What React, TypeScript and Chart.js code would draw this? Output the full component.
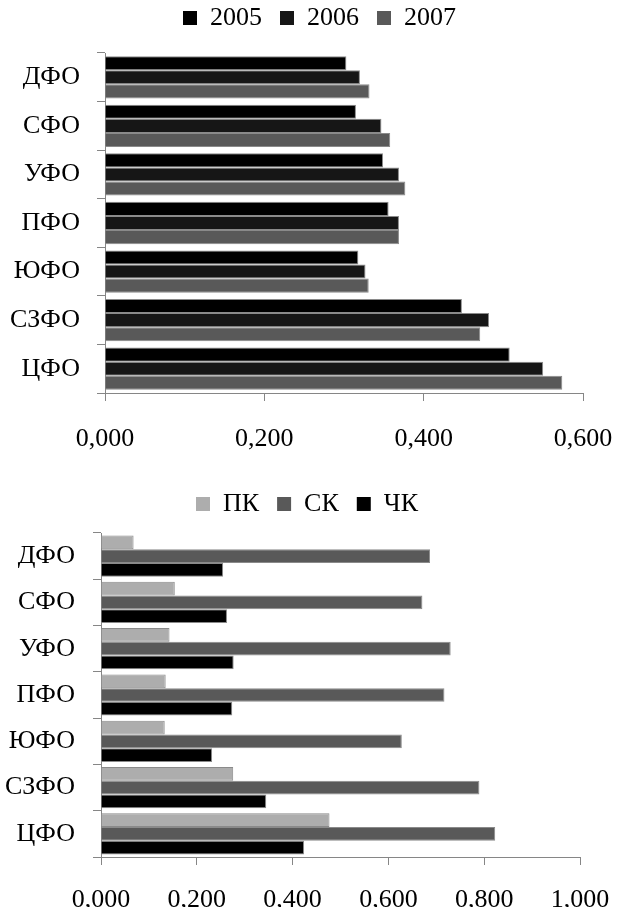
import React, { useEffect, useRef } from 'react';
import { Chart, registerables } from 'chart.js';

Chart.register(...registerables);

// ---- Data ----
const regions = ['ДФО', 'СФО', 'УФО', 'ПФО', 'ЮФО', 'СЗФО', 'ЦФО'];

const yearLabels = ['2005', '2006', '2007'];
const values2005 = [0.303, 0.315, 0.349, 0.356, 0.318, 0.448, 0.508];
const values2006 = [0.320, 0.347, 0.369, 0.369, 0.327, 0.482, 0.550];
const values2007 = [0.332, 0.358, 0.377, 0.369, 0.331, 0.471, 0.574];
const topTicks = [0, 0.2, 0.4, 0.6];

const capitalLabels = ['ПК', 'СК', 'ЧК'];
const valuesPK = [0.068, 0.154, 0.143, 0.135, 0.133, 0.276, 0.477];
const valuesSK = [0.687, 0.671, 0.730, 0.717, 0.628, 0.790, 0.823];
const valuesCHK = [0.255, 0.263, 0.277, 0.274, 0.232, 0.345, 0.424];
const bottomTicks = [0, 0.2, 0.4, 0.6, 0.8, 1.0];

const FONT = "'Liberation Serif', 'Times New Roman', serif";
const AXIS_COLOR = '#868686';

const shiftLegend = {
  id: 'shiftLegend',
  afterLayout(chart: any, _args: any, opts: any) {
    const l = chart.legend;
    if (!l) return;
    const dx = opts.dx || 0;
    const dy = opts.dy || 0;
    l.left += dx;
    l.right += dx;
    l.top += dy;
    l.bottom += dy;
  },
};

const fmt = (v: number) => v.toFixed(3).replace('.', ',');

function makeConfig(p: {
  labels: string[];
  series: { label: string; data: number[]; color: string }[];
  ticks: number[];
  yWidth: number;
  xHeight: number;
  padding: { top: number; right: number; bottom: number; left: number };
  legendShift: { dx: number; dy: number };
  xTickPadding: number;
  yTickPadding: number;
  categoryPercentage: number;
}): any {
  const min = p.ticks[0];
  const max = p.ticks[p.ticks.length - 1];
  return {
    type: 'bar',
    data: {
      labels: p.labels,
      datasets: p.series.map((s) => ({
        label: s.label,
        data: s.data,
        backgroundColor: s.color,
        borderColor: '#8a8a8a',
        borderWidth: 1,
        borderSkipped: 'start',
        barPercentage: 1,
        categoryPercentage: p.categoryPercentage,
      })),
    },
    plugins: [shiftLegend],
    options: {
      indexAxis: 'y',
      responsive: false,
      devicePixelRatio: 1,
      animation: false,
      layout: { padding: p.padding },
      plugins: {
        shiftLegend: p.legendShift,
        tooltip: { enabled: false },
        legend: {
          display: true,
          position: 'top',
          align: 'center',
          labels: {
            boxWidth: 14,
            boxHeight: 14,
            padding: 18,
            color: '#000',
            font: { family: FONT, size: 26 },
            generateLabels: (chart: any) =>
              (Chart.defaults.plugins.legend.labels as any)
                .generateLabels(chart)
                .map((it: any) => ({ ...it, strokeStyle: it.fillStyle, lineWidth: 0 })),
          },
        },
      },
      scales: {
        x: {
          type: 'linear',
          min,
          max,
          afterBuildTicks: (scale: any) => {
            scale.ticks = p.ticks.map((v) => ({ value: v }));
          },
          afterFit: (scale: any) => {
            scale.paddingLeft = 0;
            scale.paddingRight = 0;
            scale.height = p.xHeight;
          },
          ticks: {
            color: '#000',
            font: { family: FONT, size: 26 },
            padding: p.xTickPadding,
            maxRotation: 0,
            callback: (v: any) => fmt(Number(v)),
          },
          grid: {
            display: true,
            drawOnChartArea: false,
            drawTicks: true,
            tickLength: 8,
            color: AXIS_COLOR,
            lineWidth: 1,
          },
          border: { display: true, color: AXIS_COLOR, width: 1 },
        },
        y: {
          type: 'category',
          afterFit: (scale: any) => {
            scale.width = p.yWidth;
            scale.paddingTop = 0;
            scale.paddingBottom = 0;
          },
          ticks: {
            color: '#000',
            font: { family: FONT, size: 26 },
            padding: p.yTickPadding,
          },
          grid: {
            display: true,
            offset: true,
            drawOnChartArea: false,
            drawTicks: true,
            tickLength: 8,
            color: AXIS_COLOR,
            lineWidth: 1,
          },
          border: { display: true, color: AXIS_COLOR, width: 1 },
        },
      },
    },
  };
}

function BarChart({ config, width, height, top }: { config: any; width: number; height: number; top: number }) {
  const ref = useRef<HTMLCanvasElement | null>(null);
  useEffect(() => {
    if (!ref.current) return;
    const chart = new Chart(ref.current, config);
    return () => chart.destroy();
  }, [config]);
  return (
    <canvas
      ref={ref}
      width={width}
      height={height}
      style={{ position: 'absolute', left: 0, top, width, height, display: 'block' }}
    />
  );
}

const topConfig = makeConfig({
  labels: regions,
  series: [
    { label: yearLabels[0], data: values2005, color: '#000000' },
    { label: yearLabels[1], data: values2006, color: '#161616' },
    { label: yearLabels[2], data: values2007, color: '#595959' },
  ],
  ticks: topTicks,
  yWidth: 105,
  xHeight: 60,
  padding: { top: 1, right: 36, bottom: 5, left: 0 },
  legendShift: { dx: 28, dy: -12 },
  xTickPadding: 23,
  yTickPadding: 17,
  categoryPercentage: 0.87,
});

const bottomConfig = makeConfig({
  labels: regions,
  series: [
    { label: capitalLabels[0], data: valuesPK, color: '#adadad' },
    { label: capitalLabels[1], data: valuesSK, color: '#595959' },
    { label: capitalLabels[2], data: valuesCHK, color: '#000000' },
  ],
  ticks: bottomTicks,
  yWidth: 101,
  xHeight: 50,
  padding: { top: 19, right: 39, bottom: 7, left: 0 },
  legendShift: { dx: 17, dy: -6 },
  xTickPadding: 20,
  yTickPadding: 18,
  categoryPercentage: 0.89,
});

export default function App() {
  return (
    <div
      style={{
        position: 'fixed',
        left: 0,
        top: 0,
        width: 619,
        height: 910,
        overflow: 'hidden',
        background: '#fff',
      }}
    >
      <BarChart config={topConfig} width={619} height={460} top={-2} />
      <BarChart config={bottomConfig} width={619} height={454} top={460} />
    </div>
  );
}
